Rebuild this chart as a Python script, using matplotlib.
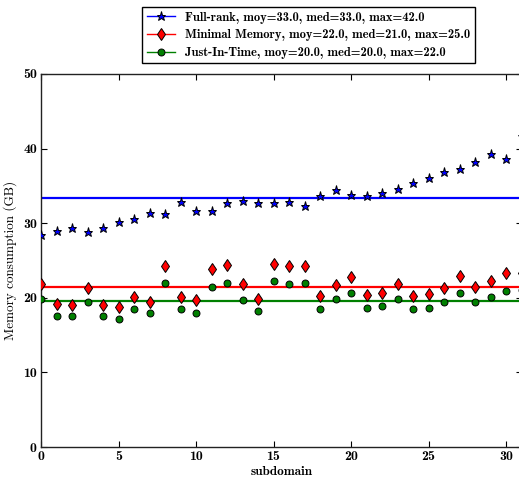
import numpy as np
import matplotlib
matplotlib.use("Agg")
import matplotlib.pyplot as plt
from matplotlib.lines import Line2D

subdomains = list(range(32))
full_rank = [28.4, 29.0, 29.4, 28.8, 29.4, 30.2, 30.5, 31.4, 31.3, 32.8, 31.7, 31.7,
             32.7, 33.0, 32.7, 32.7, 32.9, 32.3, 33.7, 34.4, 33.8, 33.7, 34.1, 34.6,
             35.4, 36.1, 36.8, 37.3, 38.2, 39.3, 38.6, 41.7]
minimal_memory = [21.8, 19.2, 19.1, 21.3, 19.1, 18.7, 20.1, 19.4, 24.2, 20.1, 19.7, 23.9,
                  24.4, 21.8, 19.9, 24.5, 24.2, 24.3, 20.2, 21.7, 22.8, 20.4, 20.7, 21.8,
                  20.2, 20.5, 21.3, 22.9, 21.4, 22.2, 23.3, 23.3]
just_in_time = [19.8, 17.6, 17.5, 19.4, 17.5, 17.2, 18.5, 17.9, 22.0, 18.5, 18.0, 21.5,
                22.0, 19.7, 18.2, 22.3, 21.9, 22.0, 18.5, 19.8, 20.7, 18.6, 18.9, 19.9,
                18.5, 18.6, 19.4, 20.7, 19.5, 20.1, 20.9, 21.0]
labels = ["Full-rank, moy=33.0, med=33.0, max=42.0",
          "Minimal Memory, moy=22.0, med=21.0, max=25.0",
          "Just-In-Time, moy=20.0, med=20.0, max=22.0"]
xticks = [0, 5, 10, 15, 20, 25, 30]
yticks = [0, 10, 20, 30, 40, 50]

bold = ['cmb10', 'DejaVu Serif']
roman = ['cmr10', 'DejaVu Serif']

fig = plt.figure(figsize=(5.19, 4.78), dpi=100)
ax = fig.add_axes([41/519, 31/478, 480.5/519, 373/478])

series = [(full_rank, 'b', '*', 6.5), (minimal_memory, 'r', 'd', 6.5), (just_in_time, 'g', 'o', 5.0)]
handles = []
for vals, c, m, ms in series:
    ax.axhline(np.mean(vals), color=c, lw=1.6, zorder=2)
    ax.plot(subdomains, vals, linestyle='none', marker=m, ms=ms, mfc=c, mec='k', mew=0.7, zorder=3)
    handles.append(Line2D([], [], color=c, lw=1, marker=m, ms=ms, mfc=c, mec='k', mew=0.7))

ax.set_xlim(0, 31)
ax.set_ylim(0, 50)
ax.set_xticks(xticks)
ax.set_yticks(yticks)
ax.tick_params(direction='in', top=True, right=True, length=4, width=0.8, pad=3)
for lab in ax.get_xticklabels() + ax.get_yticklabels():
    lab.set_family(bold)
    lab.set_fontsize(10)
for s in ax.spines.values():
    s.set_linewidth(1.0)
    s.set_color('#222222')

ax.set_xlabel("subdomain", family=bold, fontsize=9.5, labelpad=2)
ax.set_ylabel("Memory consumption (GB)", family=roman, fontsize=9.5, labelpad=4)

leg = fig.legend(handles, labels, loc='upper left', bbox_to_anchor=(136/519, 1 - 1/478),
                 prop={'family': bold, 'size': 9}, fancybox=False, edgecolor='k',
                 framealpha=1, handlelength=2.3, borderpad=0.35, labelspacing=0.45,
                 handletextpad=0.8, numpoints=1)
leg.get_frame().set_linewidth(1.0)

fig.savefig("out.png", dpi=100)
